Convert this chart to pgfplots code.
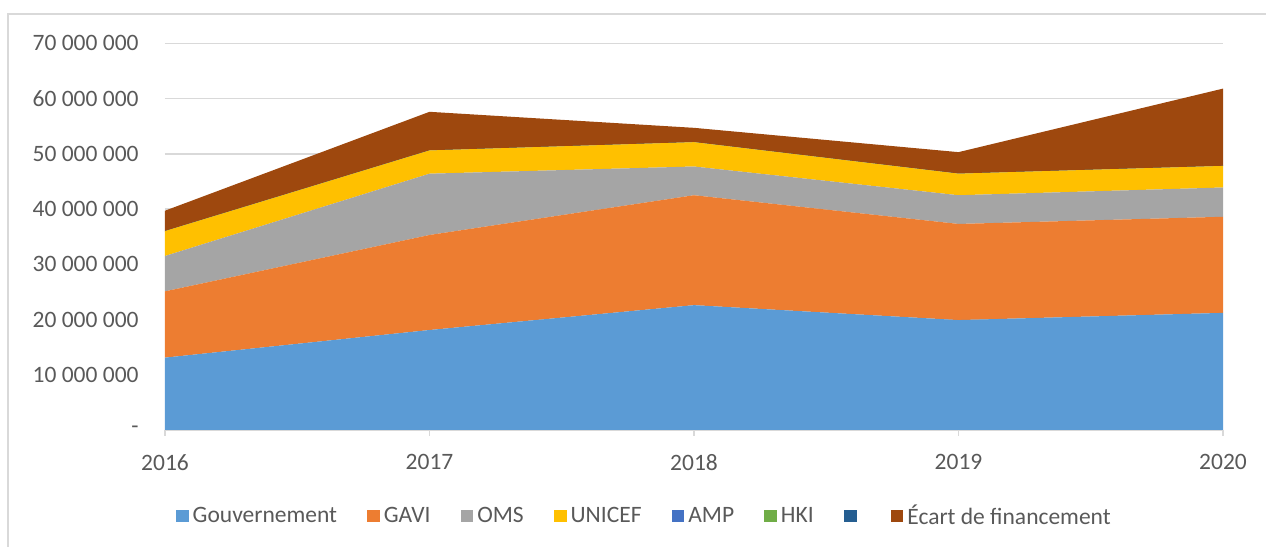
\documentclass[border=0pt]{standalone}
\usepackage{fontspec}
\setmainfont{Carlito}
\usepackage{pgfplots}
\pgfplotsset{compat=1.18}
\definecolor{cGouv}{HTML}{5B9BD5}
\definecolor{cGAVI}{HTML}{ED7D31}
\definecolor{cOMS}{HTML}{A5A5A5}
\definecolor{cUNICEF}{HTML}{FFC000}
\definecolor{cAMP}{HTML}{4472C4}
\definecolor{cHKI}{HTML}{70AD47}
\definecolor{cBlank}{HTML}{255E91}
\definecolor{cEcart}{HTML}{9E480E}
\definecolor{gridgray}{HTML}{D9D9D9}
\definecolor{textgray}{HTML}{595959}
\begin{document}
\begin{tikzpicture}[x=1pt,y=1pt]
\useasboundingbox (0,0) rectangle (633,273.5);
\draw[color=gridgray, line width=0.75pt] (4,0) -- (4,266.5) -- (633,266.5);
\begin{axis}[
  at={(82.5pt,58.5pt)}, anchor=south west,
  scale only axis, width=529pt, height=193.35pt,
  xmin=0, xmax=4, ymin=0, ymax=70000000,
  stack plots=y,
  xtick={0,1,2,3,4}, xticklabels={2016,2017,2018,2019,2020},
  ytick={0,10000000,20000000,30000000,40000000,50000000,60000000,70000000},
  yticklabels={{-\hspace{6pt}},10 000 000,20 000 000,30 000 000,40 000 000,50 000 000,60 000 000,70 000 000},
  scaled y ticks=false,
  ymajorgrids, grid style={gridgray, line width=0.75pt},
  axis x line*=bottom, axis y line*=left,
  x axis line style={gridgray, line width=0.75pt, -},
  y axis line style={draw=none},
  tick align=outside,
  major tick length=3pt,
  xtick style={gridgray, line width=0.75pt},
  ytick style={draw=none},
  ticklabel style={font=\fontsize{11.75}{14}\selectfont, text=textgray},
  yticklabel style={anchor=east, inner sep=0pt, xshift=-10pt},
  xticklabel style={anchor=north, inner sep=0pt, yshift=-9pt},
  legend columns=8,
  legend cell align=left,
  legend style={draw=none, fill=none, at={(0.454,-0.2224)}, anchor=center,
    font=\fontsize{11.75}{14}\selectfont, text=textgray,
    /tikz/every even column/.append style={column sep=13pt}},
  every axis plot/.append style={draw=none, line width=0pt,
    legend image code/.code={\fill[##1] (0pt,-3.2pt) rectangle (6.4pt,3.2pt);}},
  clip=false,
]
\addplot[fill=cGouv] coordinates {(0,13100000) (1,18100000) (2,22600000) (3,19900000) (4,21200000)} \closedcycle;
\addplot[fill=cGAVI] coordinates {(0,12000000) (1,17200000) (2,19900000) (3,17400000) (4,17400000)} \closedcycle;
\addplot[fill=cOMS] coordinates {(0,6400000) (1,11100000) (2,5200000) (3,5200000) (4,5300000)} \closedcycle;
\addplot[fill=cUNICEF] coordinates {(0,4500000) (1,4200000) (2,4400000) (3,3900000) (4,3900000)} \closedcycle;
\addplot[fill=cAMP] coordinates {(0,0) (1,0) (2,0) (3,0) (4,0)} \closedcycle;
\addplot[fill=cHKI] coordinates {(0,0) (1,0) (2,0) (3,0) (4,0)} \closedcycle;
\addplot[fill=cBlank] coordinates {(0,0) (1,0) (2,0) (3,0) (4,0)} \closedcycle;
\addplot[fill=cEcart] coordinates {(0,3700000) (1,7000000) (2,2600000) (3,3900000) (4,14000000)} \closedcycle;
\legend{Gouvernement, GAVI, OMS, UNICEF, AMP, HKI, {\hspace{16pt}}, Écart de financement}
\end{axis}
\end{tikzpicture}
\end{document}
